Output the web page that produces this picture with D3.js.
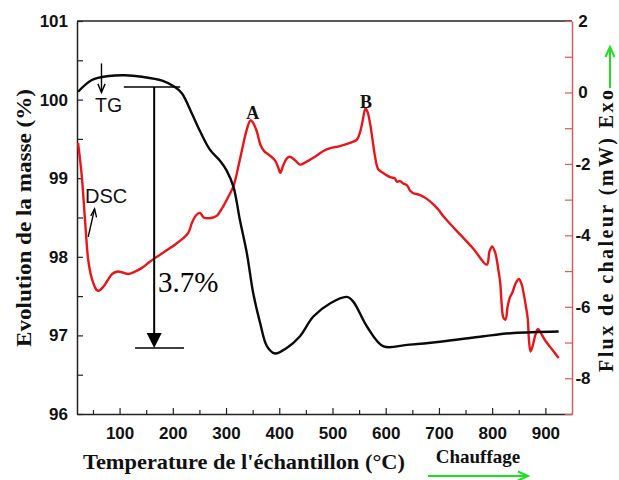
<!DOCTYPE html>
<html><head><meta charset="utf-8">
<script src="https://cdn.jsdelivr.net/npm/d3@7"></script>
<style>
html,body{margin:0;padding:0;background:#fff;}
svg{display:block;}
</style></head>
<body>
<svg id="c" width="619" height="480"></svg>
<script>
// ---- data ----
const tgTemp = [22,48,80,110,142,180,204,217,236,251,270,289,301,314,326,339,351,364,377,392,414,439,464,496,527,539,565,596,640,702,784,840,925];
const tgMass = [100.10,100.25,100.30,100.31,100.29,100.24,100.16,100.08,99.82,99.60,99.36,99.22,99.10,98.89,98.47,98.05,97.54,97.16,96.86,96.77,96.84,96.99,97.24,97.41,97.49,97.43,97.11,96.86,96.88,96.92,96.99,97.03,97.05];

const dscTemp = [22,29,35,41,46,51,57,61,69,78,86,97,106,116,128,142,155,167,185,204,218,229,236,243,251,258,266,276,283,295,305,314,326,339,346,351,358,365,372,380,392,398,402,407,414,420,430,439,450,464,483,496,514,533,546,552,556,562,566,571,576,580,586,595,602,610,617,621,627,633,640,646,652,662,671,681,690,700,708,720,740,765,790,795,800,806,812,815,818,821,825,829,833,838,844,850,855,859,863,867,869,872,876,881,886,891,900,912,925];
const dscFlux = [-1.41,-2.34,-3.56,-4.68,-5.10,-5.35,-5.53,-5.55,-5.45,-5.25,-5.08,-5.01,-5.04,-5.08,-5.02,-4.91,-4.76,-4.63,-4.45,-4.26,-4.10,-3.93,-3.65,-3.45,-3.37,-3.50,-3.52,-3.50,-3.45,-3.18,-2.90,-2.62,-1.88,-1.04,-0.78,-0.85,-1.10,-1.48,-1.65,-1.74,-1.90,-2.10,-2.25,-2.06,-1.85,-1.80,-1.90,-2.02,-1.95,-1.83,-1.64,-1.56,-1.50,-1.41,-1.32,-1.10,-0.85,-0.45,-0.55,-0.90,-1.40,-1.80,-2.15,-2.25,-2.32,-2.38,-2.40,-2.50,-2.48,-2.55,-2.60,-2.75,-2.82,-2.86,-2.92,-3.02,-3.14,-3.30,-3.46,-3.66,-3.98,-4.38,-4.82,-4.45,-4.31,-4.50,-5.00,-5.30,-5.95,-6.30,-6.36,-6.00,-5.75,-5.60,-5.35,-5.22,-5.35,-5.61,-5.95,-6.35,-6.90,-7.25,-7.10,-6.80,-6.62,-6.72,-6.95,-7.18,-7.43];

const xTicks = [100,200,300,400,500,600,700,800,900];
const xMinorTicks = [50,150,250,350,450,550,650,750,850];
const leftTicks = [96,97,98,99,100,101];
const leftMinorTicks = [96.5,97.5,98.5,99.5,100.5];
const rightTicks = [-8,-6,-4,-2,0,2];
const rightMinorTicks = [-9,-7,-5,-3,-1,1];

const xTitle = "Temperature de l'échantillon (°C)";
const leftTitle = "Evolution de la masse (%)";
const rightTitle = "Flux de chaleur (mW) Exo";

// ---- layout ----
const svg = d3.select("#c");
const L = 77, R = 572, T = 21, B = 414;
const x = d3.scaleLinear().domain([20, 950]).range([L, R]);
const yL = d3.scaleLinear().domain([96, 101]).range([B, T]);
const yR = d3.scaleLinear().domain([-9, 2]).range([B, T]);

const axisCol = "#222", redAxis = "#dd5a5a", tickFont = "'Liberation Sans', Arial, sans-serif", serif = "'Liberation Serif', 'Times New Roman', serif";

// top frame
svg.append("line").attr("x1", L).attr("x2", R).attr("y1", T).attr("y2", T).attr("stroke", axisCol).attr("stroke-width", 1.5);

// bottom axis
const gx = svg.append("g").attr("transform", `translate(0,${B})`)
  .call(d3.axisBottom(x).tickValues(xTicks).tickSizeInner(-6).tickSizeOuter(0).tickPadding(13).tickFormat(d3.format("d")));
svg.append("g").attr("transform", `translate(0,${B})`)
  .call(d3.axisBottom(x).tickValues(xMinorTicks).tickSizeInner(-4).tickSizeOuter(0).tickFormat(""))
  .select(".domain").remove();

// left axis
const gl = svg.append("g").attr("transform", `translate(${L},0)`)
  .call(d3.axisLeft(yL).tickValues(leftTicks).tickSizeInner(-6).tickSizeOuter(0).tickPadding(9).tickFormat(d3.format("d")));
svg.append("g").attr("transform", `translate(${L},0)`)
  .call(d3.axisLeft(yL).tickValues(leftMinorTicks).tickSizeInner(-6).tickSizeOuter(0).tickFormat(""))
  .select(".domain").remove();

// right axis
const gr = svg.append("g").attr("transform", `translate(${R},0)`)
  .call(d3.axisRight(yR).tickValues(rightTicks).tickSizeInner(-7).tickSizeOuter(0).tickPadding(11).tickFormat(d => d3.format("d")(d).replace("−","-")));
const grm = svg.append("g").attr("transform", `translate(${R},0)`)
  .call(d3.axisRight(yR).tickValues(rightMinorTicks).tickSizeInner(-7).tickSizeOuter(0).tickFormat(""));
grm.select(".domain").remove();

[gx, gl].forEach(g => {
  g.selectAll(".domain").attr("stroke", axisCol).attr("stroke-width", 1.5);
});
svg.selectAll(".tick line").attr("stroke", axisCol).attr("stroke-width", 1.2);
gr.selectAll(".domain").attr("stroke", redAxis).attr("stroke-width", 1.5);
gr.selectAll(".tick line").attr("stroke", redAxis);
grm.selectAll(".tick line").attr("stroke", redAxis).attr("stroke-width", 1.2);
gr.selectAll(".tick text").attr("text-anchor", "middle").attr("x", 11);

svg.selectAll(".tick text").attr("font-family", tickFont).attr("font-weight", "bold").attr("font-size", 17).attr("fill", "#111");

// curves
const lineTG = d3.line().x((d, i) => x(tgTemp[i])).y(d => yL(d)).curve(d3.curveCatmullRom.alpha(0.5));
const lineDSC = d3.line().x((d, i) => x(dscTemp[i])).y(d => yR(d)).curve(d3.curveCatmullRom.alpha(0.5));

svg.append("path").attr("d", lineDSC(dscFlux)).attr("fill", "none").attr("stroke", "#e8151b").attr("stroke-width", 2.4).attr("stroke-linejoin", "round");
svg.append("path").attr("d", lineTG(tgMass)).attr("fill", "none").attr("stroke", "#0a0a0a").attr("stroke-width", 2.4).attr("stroke-linejoin", "round");

// annotations (data coordinates)
const ann = svg.append("g").attr("stroke", "#000").attr("fill", "none");
// 3.7% arrow
const aT = 165, topMass = 100.16, botMass = 96.84;
ann.append("line").attr("x1", x(108)).attr("x2", x(214)).attr("y1", yL(topMass)).attr("y2", yL(topMass)).attr("stroke-width", 1.6);
ann.append("line").attr("x1", x(aT)).attr("x2", x(aT)).attr("y1", yL(topMass)).attr("y2", yL(botMass) - 12).attr("stroke-width", 2);
ann.append("path").attr("d", `M${x(aT)-7.5},${yL(botMass)-15} L${x(aT)+7.5},${yL(botMass)-15} L${x(aT)},${yL(botMass)} Z`).attr("fill", "#000").attr("stroke", "none");
ann.append("line").attr("x1", x(129)).attr("x2", x(221)).attr("y1", yL(botMass)).attr("y2", yL(botMass)).attr("stroke-width", 1.6);
svg.append("text").attr("x", x(172)).attr("y", yL(97.55)).text("3.7%")
  .attr("font-family", serif).attr("font-size", 29).attr("fill", "#000");

// TG label + arrow
const tgx = x(66);
ann.append("line").attr("x1", tgx).attr("x2", tgx).attr("y1", yL(100.46)).attr("y2", yL(100.09)).attr("stroke-width", 1.4);
ann.append("path").attr("d", `M${tgx-3.6},${yL(100.2)} L${tgx},${yL(100.09)} L${tgx+3.6},${yL(100.2)}`).attr("stroke-width", 1.4);
svg.append("text").attr("x", x(54)).attr("y", yL(99.84)).text("TG")
  .attr("font-family", tickFont).attr("font-size", 19.5).attr("fill", "#111");

// DSC label + arrow
const d0x = x(41), d0y = yR(-4.04), d1x = x(53), d1y = yR(-3.26);
ann.append("line").attr("x1", d0x).attr("y1", d0y).attr("x2", d1x).attr("y2", d1y).attr("stroke-width", 1.4);
ann.append("path").attr("d", `M${d1x-3.8},${d1y+7} L${d1x},${d1y} L${d1x+2},${d1y+8.5}`).attr("stroke-width", 1.4);
svg.append("text").attr("x", x(35)).attr("y", yR(-3.1)).text("DSC")
  .attr("font-family", tickFont).attr("font-size", 20).attr("fill", "#111");

// peak labels
svg.append("text").attr("x", x(350)).attr("y", yR(-0.74)).attr("text-anchor", "middle").text("A")
  .attr("font-family", serif).attr("font-weight", "bold").attr("font-size", 18).attr("fill", "#111");
svg.append("text").attr("x", x(563)).attr("y", yR(-0.43)).attr("text-anchor", "middle").text("B")
  .attr("font-family", serif).attr("font-weight", "bold").attr("font-size", 18).attr("fill", "#111");

// axis titles
svg.append("text").attr("transform", "translate(31,218) rotate(-90)").attr("text-anchor", "middle")
  .attr("textLength", 258).attr("lengthAdjust", "spacingAndGlyphs")
  .text(leftTitle).attr("font-family", serif).attr("font-weight", "bold").attr("font-size", 22).attr("fill", "#111");
svg.append("text").attr("transform", "translate(613,231) rotate(-90)").attr("text-anchor", "middle")
  .attr("textLength", 282).attr("lengthAdjust", "spacing")
  .text(rightTitle).attr("font-family", serif).attr("font-weight", "bold").attr("font-size", 20).attr("fill", "#111");
svg.append("text").attr("x", 83).attr("y", 469).attr("textLength", 322).attr("lengthAdjust", "spacingAndGlyphs")
  .text(xTitle).attr("font-family", serif).attr("font-weight", "bold").attr("font-size", 22).attr("fill", "#111");
svg.append("text").attr("x", 478).attr("y", 463).attr("text-anchor", "middle")
  .text("Chauffage").attr("font-family", serif).attr("font-weight", "bold").attr("font-size", 19).attr("fill", "#111");

// green arrows
const g = svg.append("g").attr("stroke", "#1fe01f").attr("fill", "none").attr("stroke-width", 2);
g.append("line").attr("x1", 428).attr("x2", 528).attr("y1", 476).attr("y2", 476);
g.append("path").attr("d", "M518,471.5 L528,476 L518,480.5");
g.append("line").attr("x1", 610).attr("x2", 610).attr("y1", 88).attr("y2", 47);
g.append("path").attr("d", "M605.5,57 L610,47 L614.5,57");
</script>
</body></html>
